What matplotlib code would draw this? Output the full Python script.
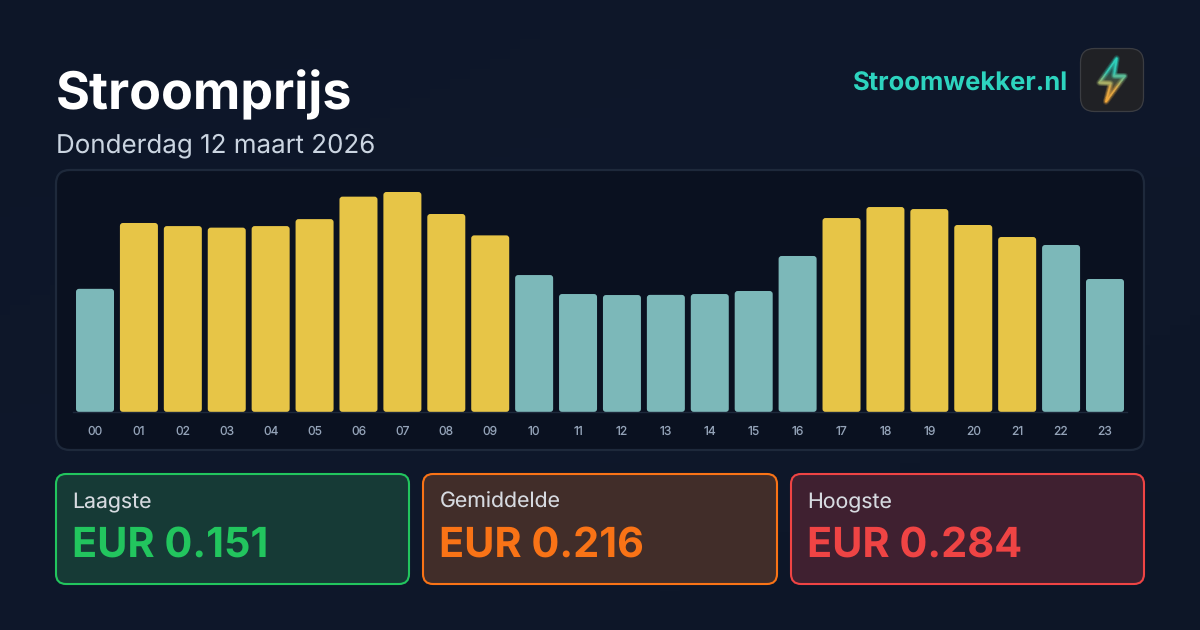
import numpy as np
import matplotlib
matplotlib.use("Agg")
import matplotlib.pyplot as plt
from matplotlib.patches import FancyBboxPatch, Polygon
from matplotlib.collections import LineCollection
from matplotlib.colors import LinearSegmentedColormap

plt.rcParams['font.family'] = ['Inter', 'DejaVu Sans']
plt.rcParams['text.hinting'] = 'no_hinting'
plt.rcParams['text.hinting_factor'] = 1

hours = [f"{h:02d}" for h in range(24)]
prices = [0.159, 0.244, 0.240, 0.238, 0.240, 0.249, 0.278, 0.284, 0.2556, 0.228,
          0.1768, 0.1523, 0.151, 0.1512, 0.1523, 0.1562, 0.2014, 0.2504, 0.2646, 0.262,
          0.2414, 0.2259, 0.2156, 0.1717]
is_high = [0, 1, 1, 1, 1, 1, 1, 1, 1, 1, 0, 0, 0, 0, 0, 0, 0, 1, 1, 1, 1, 1, 0, 0]
stat_labels = ["Laagste", "Gemiddelde", "Hoogste"]
stat_values = ["EUR 0.151", "EUR 0.216", "EUR 0.284"]
stat_colors = ["#22c55e", "#f97316", "#ef4444"]
stat_fills = ["#163a36", "#412d29", "#3f2030"]
stat_lefts = [56, 423, 791]
stat_rights = [409, 777, 1144]

W, H = 1200, 630
fig = plt.figure(figsize=(12, 6.3), dpi=100)

bg = fig.add_axes([0, 0, 1, 1])
bg.set_xlim(0, W); bg.set_ylim(H, 0); bg.axis("off")
gx, gy = np.meshgrid(np.linspace(0, 1, 120), np.linspace(0, 1, 64))
grad = gx * 0.5 + gy * 0.5
cm = LinearSegmentedColormap.from_list("bg", ["#0d1628", "#0f182b", "#0d1627"])
bg.imshow(grad, extent=(0, W, H, 0), cmap=cm, aspect="auto", zorder=0)
bg.set_xlim(0, W); bg.set_ylim(H, 0)


def rbox(ax, x0, y0, x1, y1, r, fc, ec, lw, z=1):
    p = FancyBboxPatch((x0, y0), x1 - x0, y1 - y0,
                       boxstyle=f"round,pad=0,rounding_size={r}",
                       fc=fc, ec=ec, lw=lw, zorder=z)
    ax.add_patch(p)
    return p


bg.text(56, 89, "Stroomprijs", color="white", fontsize=37.4, fontweight="bold",
        va="center_baseline", ha="left")
bg.text(56, 142.5, "Donderdag 12 maart 2026", color="#cbd5e1", fontsize=18.7,
        va="center_baseline", ha="left")
bg.text(1068, 81, "Stroomwekker.nl", color="#2dd4bf", fontsize=18.45, fontweight="bold",
        va="center_baseline", ha="right")

# logo
rbox(bg, 1080.5, 48.5, 1143.5, 111.5, 14, "#202125", "#3b3d42", 0.9)
bolt = np.array([(1116.7, 58.3), (1099.3, 82.7), (1110.7, 83.3), (1106, 101.7),
                 (1125, 76), (1114, 76), (1116.7, 58.3)])
bcm = LinearSegmentedColormap.from_list("bolt", ["#2dd4bf", "#35c4b0", "#d9a648", "#f5a83a"])
fill = bg.imshow(np.linspace(0, 1, 64)[:, None], extent=(1095, 1130, 102, 58),
                 cmap=bcm, aspect="auto", alpha=0.3, zorder=3)
clip = Polygon(bolt, closed=True, transform=bg.transData, fc="none", ec="none")
bg.add_patch(clip)
fill.set_clip_path(clip)
bg.set_xlim(0, W); bg.set_ylim(H, 0)
pts = []
for a, b in zip(bolt[:-1], bolt[1:]):
    for t in np.linspace(0, 1, 12, endpoint=False):
        pts.append(a + (b - a) * t)
pts.append(bolt[-1])
pts = np.array(pts)
segs = np.stack([pts[:-1], pts[1:]], axis=1)
cvals = bcm((segs[:, :, 1].mean(axis=1) - 58) / 44)
for lw, al in [(4.5, 0.1), (2.8, 0.2), (1.1, 1.0)]:
    c = cvals.copy(); c[:, 3] = al
    bg.add_collection(LineCollection(segs, colors=c, linewidths=lw, zorder=4, capstyle="round"))

# chart panel
rbox(bg, 56, 170, 1144, 450, 14, "#0a1120", "#1e293b", 1.6)

# stat cards
for lab, val, col, fc, x0, x1 in zip(stat_labels, stat_values, stat_colors, stat_fills,
                                     stat_lefts, stat_rights):
    rbox(bg, x0, 474, x1, 584, 10, fc, col, 1.5)
    bg.text(x0 + 16.5, 500.5, lab, color="#d6dae0", fontsize=15.3, va="center_baseline", ha="left")
    bg.text(x0 + 16, 541.5, val, color=col, fontsize=29.8, fontweight="bold",
            va="center_baseline", ha="left")

# bar chart
x_left, x_right = 73.05, 1126.95
y_base, y_max_px = 412, 192
vmax = max(prices)
top_px = 180
ax = fig.add_axes([x_left / W, 1 - y_base / H, (x_right - x_left) / W, (y_base - top_px) / H])
ax.patch.set_alpha(0)
ax.set_xlim(-0.5, 23.5)
ylim_top = vmax * (y_base - top_px) / (y_base - y_max_px)
ax.set_ylim(0, ylim_top)
px_x = 24 / (x_right - x_left)
px_y = ylim_top / (y_base - top_px)
bw = 38 * px_x
for i, (p, hi) in enumerate(zip(prices, is_high)):
    ax.add_patch(FancyBboxPatch((i - bw / 2, 0), bw, p,
                                boxstyle=f"round,pad=0,rounding_size={3 * px_x}",
                                mutation_aspect=px_y / px_x,
                                fc="#e7c547" if hi else "#7cb8b9", ec="none"))
ax.set_xticks(range(24), hours)
ax.set_yticks([])
ax.tick_params(axis="x", length=0, pad=10, labelsize=8.7, labelcolor="#94a3b8")
for s in ["top", "left", "right"]:
    ax.spines[s].set_visible(False)
ax.spines["bottom"].set_color("#1e293b")
ax.spines["bottom"].set_linewidth(1)

fig.savefig("out.png", dpi=100)
